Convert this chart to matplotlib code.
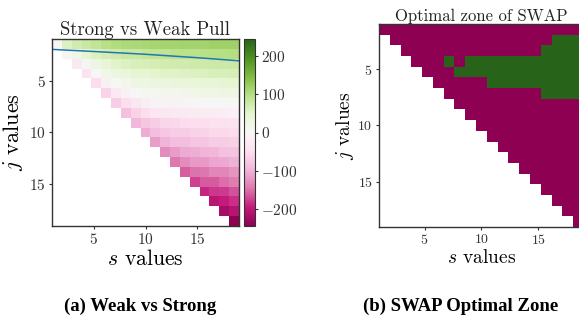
import numpy as np
import matplotlib
matplotlib.use("Agg")
import matplotlib.pyplot as plt

plt.rcParams['font.family'] = 'serif'
plt.rcParams['font.serif'] = ['cmr10']
plt.rcParams['mathtext.fontset'] = 'cm'
plt.rcParams['axes.formatter.use_mathtext'] = True
plt.rcParams['axes.edgecolor'] = '#333333'
plt.rcParams['text.color'] = '#222222'
plt.rcParams['xtick.color'] = '#333333'
plt.rcParams['ytick.color'] = '#333333'

N = 19  # s, j = 1..19

# strong-vs-weak pull, one list per j row (values for s >= j)
pull_rows = [
    [2, 58, 72, 80, 88, 96, 102, 107, 108, 111, 112, 113, 114, 115, 115, 116, 117, 118, 118],
    [-5, 22, 48, 58, 66, 72, 79, 80, 86, 88, 89, 92, 94, 95, 97, 98, 99, 100],
    [-30, 5, 25, 40, 52, 58, 63, 65, 68, 70, 71, 72, 73, 74, 75, 76, 77],
    [-40, 0, 18, 30, 38, 44, 45, 50, 54, 55, 56, 58, 60, 62, 63, 65],
    [-52, -12, 3, 15, 24, 25, 30, 32, 33, 36, 38, 39, 41, 43, 45],
    [-62, -30, -8, 0, 7, 8, 13, 15, 16, 18, 20, 21, 23, 25],
    [-72, -50, -32, -18, -11, -10, -6, -5, -4, -2, -1, 0, 2],
    [-85, -65, -50, -36, -34, -28, -27, -25, -21, -20, -18, -16],
    [-95, -80, -70, -61, -59, -53, -51, -50, -45, -43, -40],
    [-105, -88, -78, -72, -71, -64, -63, -57, -56, -52],
    [-115, -98, -88, -87, -80, -79, -70, -69, -66],
    [-130, -118, -106, -105, -98, -97, -84, -82],
    [-145, -130, -120, -119, -110, -109, -100],
    [-160, -148, -147, -135, -134, -124],
    [-175, -162, -161, -150, -140],
    [-190, -180, -179, -165],
    [-205, -196, -185],
    [-222, -208],
    [-245],
]

# boundary line drawn on the left panel
line_s = [1, 5, 10, 15, 19]
line_j = [2.0, 2.2, 2.47, 2.8, 3.1]

# SWAP optimal cells: row index -> list of (first col, last col)
swap_green = {
    1: [(16, 18)],
    2: [(15, 18)],
    3: [(6, 6), (8, 18)],
    4: [(7, 18)],
    5: [(10, 18)],
    6: [(15, 18)],
}

pull = np.full((N, N), np.nan)
for j, row in enumerate(pull_rows):
    pull[j, j:] = row

swap = np.full((N, N), np.nan)
for j in range(N):
    swap[j, j:] = 0
for j, spans in swap_green.items():
    for a, b in spans:
        swap[j, a:b + 1] = 1

cmap = plt.get_cmap('PiYG').copy()
cmap.set_bad('white')

W, H = 579, 324
fig = plt.figure(figsize=(W / 100, H / 100), dpi=100)

def box(x0, y0, x1, y1):
    return [x0 / W, 1 - y1 / H, (x1 - x0) / W, (y1 - y0) / H]

# (a) left panel
ax1 = fig.add_axes(box(52, 39, 239, 226))
im = ax1.imshow(np.ma.masked_invalid(pull), cmap=cmap, vmin=-245, vmax=245,
                extent=(1, 19, 19, 1), aspect='auto', interpolation='nearest')
ax1.plot(line_s, line_j, color='#1f77b4', linewidth=1.1)
ax1.set_xlim(1, 19)
ax1.set_ylim(19, 1)
ax1.set_xticks([5, 10, 15])
ax1.set_yticks([5, 10, 15])
ax1.tick_params(labelsize=11, length=2.5, pad=2)
ax1.set_title('Strong vs Weak Pull', fontsize=13.5, pad=3)
ax1.set_xlabel('$s$ values', fontsize=15.5)
ax1.set_ylabel('$j$ values', fontsize=16)
ax1.xaxis.set_label_coords(0.5, -0.125)
ax1.yaxis.set_label_coords(-0.145, 0.5)

cax = fig.add_axes(box(244, 39, 255, 226))
cb = fig.colorbar(im, cax=cax, ticks=[-200, -100, 0, 100, 200])
cb.ax.tick_params(labelsize=11, length=2.5, pad=1.5)
cb.outline.set_edgecolor('#333333')

# (b) right panel
ax2 = fig.add_axes(box(379, 24.3, 584, 226.7))
ax2.imshow(np.ma.masked_invalid(swap), cmap=cmap, vmin=0, vmax=1,
           extent=(1, 19, 19, 1), aspect='auto', interpolation='nearest')
ax2.set_xlim(1, 19)
ax2.set_ylim(19, 1)
ax2.set_xticks([5, 10, 15])
ax2.set_yticks([5, 10, 15])
ax2.tick_params(labelsize=10, length=2.5, pad=2)
ax2.set_title('Optimal zone of SWAP', fontsize=12, pad=2)
ax2.set_xlabel('$s$ values', fontsize=14)
ax2.set_ylabel('$j$ values', fontsize=14)
ax2.xaxis.set_label_coords(0.5, -0.11)
ax2.yaxis.set_label_coords(-0.11, 0.5)

for ax in (ax1, ax2):
    for sp in ax.spines.values():
        sp.set_linewidth(1.0)

fig.text(140 / W, 1 - 306 / H, '(a) Weak vs Strong', ha='center', va='center',
         fontsize=13.5, fontweight='bold', family='Liberation Serif', color='black')
fig.text(461 / W, 1 - 306 / H, '(b) SWAP Optimal Zone', ha='center', va='center',
         fontsize=13.5, fontweight='bold', family='Liberation Serif', color='black')

fig.savefig('out.png', dpi=100)
